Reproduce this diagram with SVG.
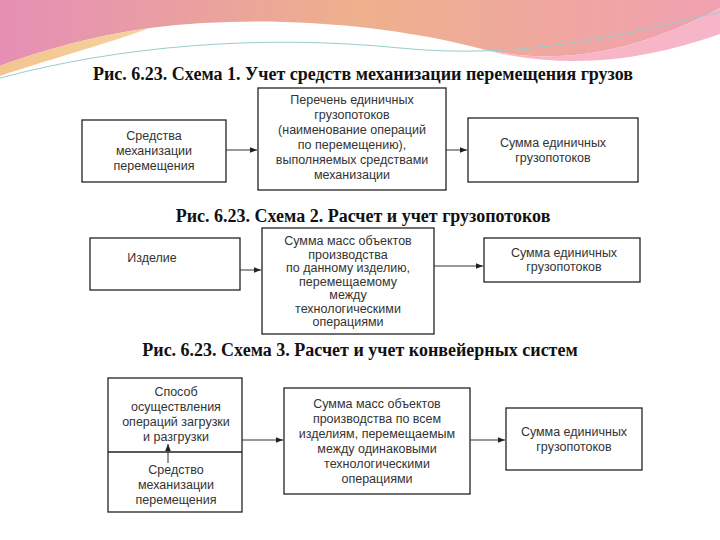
<svg xmlns="http://www.w3.org/2000/svg" width="720" height="540" viewBox="0 0 720 540">
<defs>
<linearGradient id="bg" x1="0" y1="0" x2="1" y2="0"><stop offset="0" stop-color="#e58fb5"/><stop offset="0.5" stop-color="#eeb08c"/><stop offset="1" stop-color="#f0a0b0"/></linearGradient>
<linearGradient id="bg2" x1="0" y1="0" x2="1" y2="0"><stop offset="0" stop-color="#f2c58e"/><stop offset="1" stop-color="#f5d2a0"/></linearGradient>
<marker id="ar" viewBox="0 0 10 10" refX="10" refY="5" markerWidth="7" markerHeight="7" orient="auto"><path d="M0,1 L10,5 L0,9 z" fill="#222"/></marker>
</defs>
<style>
.b{fill:#fff;stroke:#222;stroke-width:1.3}
.t{font-family:"Liberation Sans",Arial,sans-serif;font-size:12.5px;fill:#333;text-anchor:middle}
.h{font-family:"Liberation Serif","Times New Roman",serif;font-size:18px;font-weight:bold;fill:#111;text-anchor:middle}
.c{stroke:#333;stroke-width:1;fill:none;marker-end:url(#ar)}
</style>
<rect width="720" height="540" fill="#fff"/>
<path d="M0,0 H720 V8 C640,50 560,70 470,46 C380,24 260,14 150,28 C80,38 30,55 0,66 Z" fill="url(#bg)"/>
<path d="M0,66 C30,55 80,38 150,28 C100,46 40,62 0,76 Z" fill="url(#bg2)"/>
<path d="M470,46 C560,70 640,50 720,8 V34 C640,62 560,72 470,46 Z" fill="#f7b5c8"/>
<path d="M0,78 C120,46 260,34 400,48 C520,60 620,36 720,12" stroke="#9cc" stroke-width="1" fill="none"/>
<text class="h" x="363" y="80">Рис. 6.23. Схема 1. Учет средств механизации перемещения грузов</text>
<g id="n1"><rect class="b" x="82" y="120" width="144" height="62"/><text class="t" x="154" y="140">Средства</text><text class="t" x="154" y="155">механизации</text><text class="t" x="154" y="170">перемещения</text></g>
<g id="n2"><rect class="b" x="258" y="88" width="188" height="102"/><text class="t" x="352" y="104">Перечень единичных</text><text class="t" x="352" y="119">грузопотоков</text><text class="t" x="352" y="134">(наименование операций</text><text class="t" x="352" y="149">по перемещению),</text><text class="t" x="352" y="164">выполняемых средствами</text><text class="t" x="352" y="179">механизации</text></g>
<g id="n3"><rect class="b" x="468" y="118" width="170" height="64"/><text class="t" x="553" y="147">Сумма единичных</text><text class="t" x="553" y="162">грузопотоков</text></g>
<text class="h" x="363" y="222">Рис. 6.23. Схема 2. Расчет и учет грузопотоков</text>
<g id="n4"><rect class="b" x="90" y="238" width="150" height="52"/><text class="t" x="152" y="262">Изделие</text></g>
<g id="n5"><rect class="b" x="262" y="228" width="172" height="106"/><text class="t" x="348" y="245">Сумма масс объектов</text><text class="t" x="348" y="258.5">производства</text><text class="t" x="348" y="272">по данному изделию,</text><text class="t" x="348" y="285.5">перемещаемому</text><text class="t" x="348" y="299">между</text><text class="t" x="348" y="312.5">технологическими</text><text class="t" x="348" y="326">операциями</text></g>
<g id="n6"><rect class="b" x="484" y="238" width="156" height="44"/><text class="t" x="564" y="257">Сумма единичных</text><text class="t" x="564" y="271">грузопотоков</text></g>
<text class="h" x="360" y="356">Рис. 6.23. Схема 3. Расчет и учет конвейерных систем</text>
<g id="n7"><rect class="b" x="108" y="378" width="134" height="134"/><line x1="108" y1="452" x2="242" y2="452" stroke="#222" stroke-width="1.3"/><text class="t" x="176" y="396">Способ</text><text class="t" x="176" y="411">осуществления</text><text class="t" x="176" y="426">операций загрузки</text><text class="t" x="176" y="441">и разгрузки</text><text class="t" x="176" y="474">Средство</text><text class="t" x="176" y="489">механизации</text><text class="t" x="176" y="504">перемещения</text></g>
<g id="n8"><rect class="b" x="284" y="388" width="186" height="106"/><text class="t" x="377" y="408">Сумма масс объектов</text><text class="t" x="377" y="423">производства по всем</text><text class="t" x="377" y="438">изделиям, перемещаемым</text><text class="t" x="377" y="453">между одинаковыми</text><text class="t" x="377" y="468">технологическими</text><text class="t" x="377" y="483">операциями</text></g>
<g id="n9"><rect class="b" x="506" y="408" width="136" height="62"/><text class="t" x="574" y="436">Сумма единичных</text><text class="t" x="574" y="451">грузопотоков</text></g>
<g id="connectors">
<line class="c" x1="226" y1="150" x2="257" y2="150"/>
<line class="c" x1="446" y1="150" x2="467" y2="150"/>
<line class="c" x1="240" y1="270" x2="261" y2="270"/>
<line class="c" x1="434" y1="266" x2="483" y2="266"/>
<line class="c" x1="242" y1="440" x2="283" y2="440"/>
<line class="c" x1="470" y1="440" x2="505" y2="440"/>
<line class="c" x1="168" y1="463" x2="168" y2="444"/>
</g>
</svg>
